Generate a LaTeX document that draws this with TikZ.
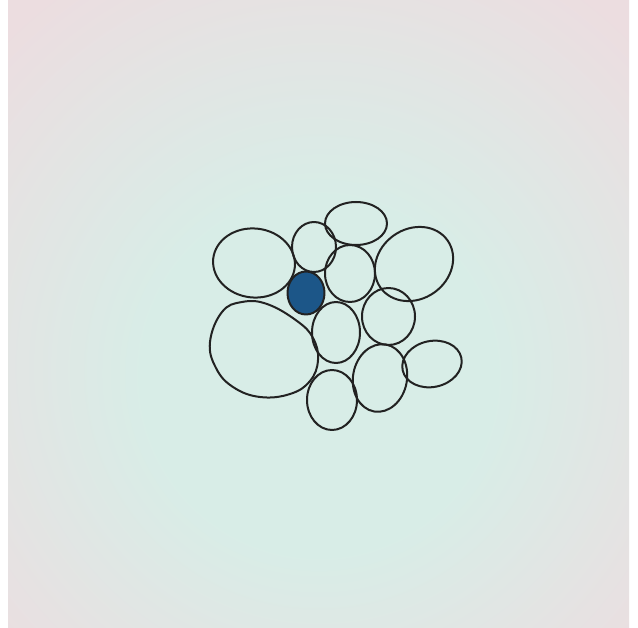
\documentclass[tikz,border=0pt]{standalone}
\definecolor{mint}{RGB}{216,237,231}
\definecolor{paperpink}{RGB}{236,221,224}
\definecolor{ink}{RGB}{34,34,34}
\definecolor{cellblue}{RGB}{28,86,136}
\pgfdeclareradialshading{paper}{\pgfpoint{0bp}{-6bp}}{color(0bp)=(mint); color(14bp)=(mint); color(36bp)=(paperpink); color(80bp)=(paperpink)}
\tikzset{cell/.style={draw=ink, line width=2pt, line join=round}}
\begin{document}
\begin{tikzpicture}[x=1pt,y=-1pt]
\useasboundingbox (0,0) rectangle (638,628);
\fill[white] (0,0) rectangle (638,628);
\shade[shading=paper] (8,0) rectangle (629,628);
% top-left large
\draw[cell, rotate around={-6:(254,263)}] (254,263) ellipse [x radius=41, y radius=34.5];
% small upper
\draw[cell] (314,247) ellipse [x radius=22, y radius=25];
% top
\draw[cell] (356,223.5) ellipse [x radius=31, y radius=21.5];
% top-right large
\draw[cell, rotate around={35:(414,264)}] (414,264) ellipse [x radius=41, y radius=35];
% middle
\draw[cell] (350,273.5) ellipse [x radius=25, y radius=28.5];
% big bottom-left egg
\draw[cell] plot[smooth cycle, tension=0.7] coordinates {(210,342) (222,312) (242,302) (267,304) (297,321) (313,338) (318,360) (310,381) (290,394) (260,397) (233,387) (216,368)};
% centre (below blue)
\draw[cell] (336,332.5) ellipse [x radius=24, y radius=30.5];
% right middle
\draw[cell] (388.5,316.5) ellipse [x radius=26.5, y radius=28.5];
% lower middle
\draw[cell, rotate around={-10:(380,378)}] (380,378) ellipse [x radius=27, y radius=34];
% right small
\draw[cell, rotate around={12:(432,364)}] (432,364) ellipse [x radius=30, y radius=23];
% bottom
\draw[cell] (332,400) ellipse [x radius=25, y radius=30];
% blue cell
\draw[cell, fill=cellblue] (306,293) ellipse [x radius=18.5, y radius=21.5];
\end{tikzpicture}
\end{document}
